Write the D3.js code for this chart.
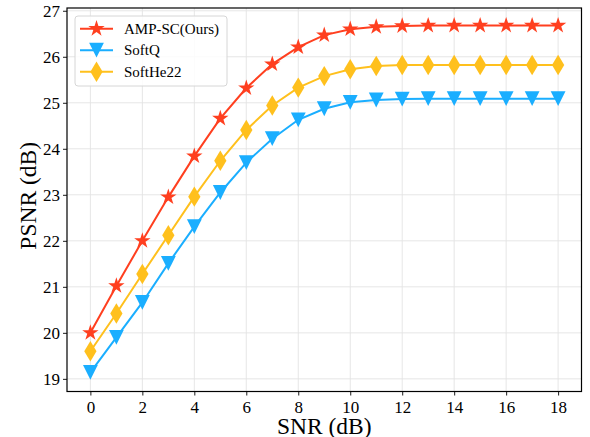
<!DOCTYPE html>
<html>
<head>
<meta charset="utf-8">
<script src="https://cdn.jsdelivr.net/npm/d3@7"></script>
<style>
html,body{margin:0;padding:0;background:#fff;}
svg text{font-family:"Liberation Serif","Times New Roman",serif;fill:#000;}
</style>
</head>
<body>
<svg id="chart" width="590" height="437"></svg>
<script>
const snr = [0,1,2,3,4,5,6,7,8,9,10,11,12,13,14,15,16,17,18];
const ampsc = [20.0,21.02,22.0,22.95,23.84,24.66,25.32,25.84,26.21,26.47,26.6,26.65,26.67,26.68,26.68,26.68,26.68,26.68,26.68];
const softq = [19.14,19.9,20.66,21.51,22.31,23.05,23.7,24.22,24.63,24.87,25.01,25.06,25.08,25.09,25.09,25.09,25.09,25.09,25.09];
const softhe22 = [19.6,20.42,21.28,22.12,22.96,23.74,24.41,24.94,25.33,25.58,25.73,25.8,25.82,25.82,25.82,25.82,25.82,25.82,25.82];
const xTicks = [0,2,4,6,8,10,12,14,16,18];
const yTicks = [19,20,21,22,23,24,25,26,27];
const seriesNames = ["AMP-SC(Ours)","SoftQ","SoftHe22"];
const seriesColors = ["#ff3f1f","#1aaeff","#ffc01d"];
const seriesMarkers = ["star","tri","diamond"];
const seriesValues = [ampsc, softq, softhe22];

const svg = d3.select("#chart");
const L = 67, R = 581.5, T = 8, B = 391.5;
const x = d3.scaleLinear().domain([-0.9, 18.9]).range([L, R]);
const y = d3.scaleLinear().domain([18.725, 27.06]).range([B, T]);

// grid
const g = svg.append("g");
g.selectAll(".gx").data(xTicks).enter().append("line")
  .attr("x1", d=>x(d)).attr("x2", d=>x(d)).attr("y1", T).attr("y2", B)
  .attr("stroke", "#e3e3e3").attr("stroke-width", 0.9);
g.selectAll(".gy").data(yTicks).enter().append("line")
  .attr("y1", d=>y(d)).attr("y2", d=>y(d)).attr("x1", L).attr("x2", R)
  .attr("stroke", "#e3e3e3").attr("stroke-width", 0.9);

function markerPath(type, size){
  if(type==="star"){
    const ro = size, ri = size*0.381966; let p = [];
    for(let i=0;i<10;i++){
      const r = i%2===0?ro:ri; const a = -Math.PI/2 + i*Math.PI/5;
      p.push([r*Math.cos(a), r*Math.sin(a)]);
    }
    return "M"+p.map(q=>q.join(",")).join("L")+"Z";
  } else if(type==="tri"){
    const s = size;
    return `M${-s},${-s}L${s},${-s}L0,${s}Z`;
  } else {
    const h = size*1.4, w = h*0.6;
    return `M0,${-h}L${w},0L0,${h}L${-w},0Z`;
  }
}
const mSize = {star:8.6, tri:7.4, diamond:7.3};

const line = d3.line().curve(d3.curveLinear);
seriesValues.forEach((vals, si)=>{
  const pts = snr.map((s,i)=>[x(s), y(vals[i])]);
  svg.append("path").attr("d", line(pts)).attr("fill","none")
    .attr("stroke", seriesColors[si]).attr("stroke-width", 2);
  svg.append("g").selectAll("path").data(pts).enter().append("path")
    .attr("transform", d=>`translate(${d[0]},${d[1]})`)
    .attr("d", markerPath(seriesMarkers[si], mSize[seriesMarkers[si]]))
    .attr("fill", seriesColors[si]);
});

// axes
const xAxis = d3.axisBottom(x).tickValues(xTicks).tickSize(4).tickPadding(5).tickFormat(d3.format("d"));
const yAxis = d3.axisLeft(y).tickValues(yTicks).tickSize(4).tickPadding(3).tickFormat(d3.format("d"));
const gx = svg.append("g").attr("transform", `translate(0,${B})`).call(xAxis);
const gy = svg.append("g").attr("transform", `translate(${L},0)`).call(yAxis);
[gx, gy].forEach(a=>{
  a.select(".domain").remove();
  a.selectAll("line").attr("stroke","#000").attr("stroke-width",0.9);
  a.selectAll("text").style("font-family",'"Liberation Serif","Times New Roman",serif').style("font-size","17px").attr("fill","#000");
});
svg.append("rect").attr("x",L).attr("y",T).attr("width",R-L).attr("height",B-T)
  .attr("fill","none").attr("stroke","#000").attr("stroke-width",1.2);

svg.append("text").attr("x",(L+R)/2).attr("y",433.5).attr("text-anchor","middle")
  .style("font-size","23.5px").text("SNR (dB)");
svg.append("text").attr("transform",`translate(35.5,${(T+B)/2 - 4}) rotate(-90)`).attr("text-anchor","middle")
  .style("font-size","23.5px").text("PSNR (dB)");

// legend
const lg = svg.append("g");
lg.append("rect").attr("x",75).attr("y",16).attr("width",152).attr("height",70).attr("rx",3)
  .attr("fill","#fff").attr("fill-opacity",0.85).attr("stroke","#d6d6d6").attr("stroke-width",1);
seriesNames.forEach((n,i)=>{
  const yy = 28.7 + i*21.5;
  lg.append("line").attr("x1",80).attr("x2",113).attr("y1",yy).attr("y2",yy)
    .attr("stroke",seriesColors[i]).attr("stroke-width",2);
  lg.append("path").attr("transform",`translate(96.5,${yy})`)
    .attr("d", markerPath(seriesMarkers[i], mSize[seriesMarkers[i]])).attr("fill",seriesColors[i]);
  lg.append("text").attr("x",124).attr("y",yy+5).style("font-size","15px").text(n);
});
</script>
</body>
</html>
